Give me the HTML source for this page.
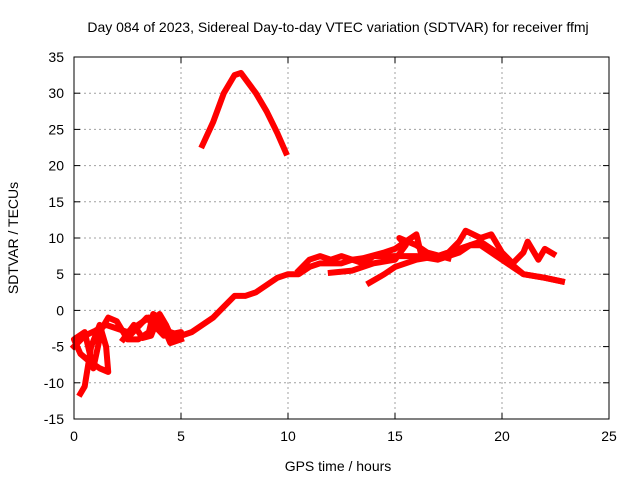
<!DOCTYPE html>
<html><head><meta charset="utf-8"><style>
body{margin:0;background:#fff;}
svg{display:block;font-family:"Liberation Sans",sans-serif;}
</style></head><body>
<svg id="chart" width="640" height="480">
<text x="338" y="32" font-size="14" text-anchor="middle">Day 084 of 2023, Sidereal Day-to-day VTEC variation (SDTVAR) for receiver ffmj</text>
<text x="338" y="471" font-size="14" text-anchor="middle">GPS time / hours</text>
<text x="18" y="238" font-size="14" text-anchor="middle" transform="rotate(-90 18 238)">SDTVAR / TECUs</text>
<g id="grid"></g><g id="ticks"></g><g id="series"></g>
<rect x="74" y="57" width="535" height="362" fill="none" stroke="#000" stroke-width="1"/>
</svg>
<script>
const xTicks=[0,5,10,15,20,25];
const yTicks=[-15,-10,-5,0,5,10,15,20,25,30,35];
const traceMain=[[0,-5],[0.5,-3.5],[1,-2.8],[1.5,-2],[2,-2.5],[2.5,-3],[3,-2],[3.5,-1],[4,-2.5],[4.5,-3],[5,-3.5],[5.5,-3],[6,-2],[6.5,-1],[7,0.5],[7.5,2],[8,2],[8.5,2.5],[9,3.5],[9.5,4.5],[10,5],[10.5,5],[11,6],[11.5,6.5],[12,6.5],[12.5,6.5],[13,7],[13.5,6.5],[14,7.5],[15,7.5],[16,7.5],[17,7],[18,8],[18.5,9],[19,9],[19.5,8],[20,7],[20.5,6],[21,5],[22,4.5],[22.8,4]];
const tracePeak=[[6,22.8],[6.5,26],[7,30],[7.5,32.5],[7.8,32.8],[8.5,30],[9,27.5],[9.5,24.5],[9.9,21.8]];
const traceLow=[[0.3,-11.5],[0.5,-10.5],[0.8,-5],[1.2,-2],[1.5,-5],[1.6,-8.5],[1.2,-8],[0.7,-7],[0.3,-6],[0,-4],[0.5,-3],[0.9,-8],[1.3,-2.5],[1.6,-1],[2,-1.5],[2.5,-4],[3,-4],[3.5,-3],[3.7,-0.5],[4,-1],[4.5,-4.5],[5,-4]];
const traceZig=[[2.3,-4],[2.8,-2],[3.2,-3.8],[3.6,-3.5],[4,-0.5],[4.3,-2],[4.6,-4],[5,-3],[4.2,-3.5],[3.4,-1],[2.6,-3.5]];
const traceUpper=[[10.5,5.5],[11,7],[11.5,7.5],[12,7],[12.5,7.5],[13,7],[13.5,7.2],[14.5,8],[15,8.5],[15.5,9.5],[16,10.5],[16.2,8],[17,7.5],[17.5,8],[18,9.5],[18.3,11],[19,10],[19.5,10.5],[20,8],[20.5,6.5],[21,8],[21.2,9.5],[21.7,7],[22,8.5],[22.4,7.8]];
const traceLower=[[13.8,3.8],[14.5,5],[15,6],[16,7],[17,7.5],[18,8.5],[19,9.5],[20,7.5],[21,5],[22,4.5],[22.8,4]];
const traceMid=[[12,5.2],[13,5.5],[14,6.5],[15,7],[15.5,9],[15.2,10],[16,9],[16.5,8],[17.5,7.2]];
const X0=74,X1=609,Y0=419,Y1=57;
const xs=v=>X0+(v-0)/25*(X1-X0);
const ys=v=>Y0-(v+15)/50*(Y0-Y1);
const NS="http://www.w3.org/2000/svg";
const grid=document.getElementById('grid'),ticks=document.getElementById('ticks'),ser=document.getElementById('series');
function mk(t,a,p){const e=document.createElementNS(NS,t);for(const k in a)e.setAttribute(k,a[k]);p.appendChild(e);return e;}
xTicks.forEach(v=>{const x=xs(v);
 if(v>0&&v<25){const g=mk('line',{x1:x,x2:x,y1:Y1,y2:Y0,stroke:'#a0a0a0','stroke-dasharray':'2,3'},grid);
 
 }
 mk('line',{x1:x,x2:x,y1:Y0,y2:Y0-6,stroke:'#000'},ticks);mk('line',{x1:x,x2:x,y1:Y1,y2:Y1+6,stroke:'#000'},ticks);
 const t=mk('text',{x:x,y:Y0+22,'font-size':14,'text-anchor':'middle'},ticks);t.textContent=v;
 
 });
yTicks.forEach(v=>{const y=ys(v);
 if(v>-15&&v<35){const g=mk('line',{x1:X0,x2:X1,y1:y,y2:y,stroke:'#a0a0a0','stroke-dasharray':'2,3'},grid);
 
 }
 mk('line',{x1:X0,x2:X0+6,y1:y,y2:y,stroke:'#000'},ticks);mk('line',{x1:X1,x2:X1-6,y1:y,y2:y,stroke:'#000'},ticks);
 const t=mk('text',{x:X0-10,y:y+5,'font-size':14,'text-anchor':'end'},ticks);t.textContent=v;
 
 });
[traceMain,tracePeak,traceLow,traceZig,traceUpper,traceLower,traceMid].forEach((tr,i)=>{
 const p=mk('polyline',{points:tr.map(d=>xs(d[0])+','+ys(d[1])).join(' '),fill:'none',stroke:'#ff0000','stroke-width':6,'stroke-linejoin':'round','stroke-linecap':'square'},ser);
 
 });
</script>
</body></html>
